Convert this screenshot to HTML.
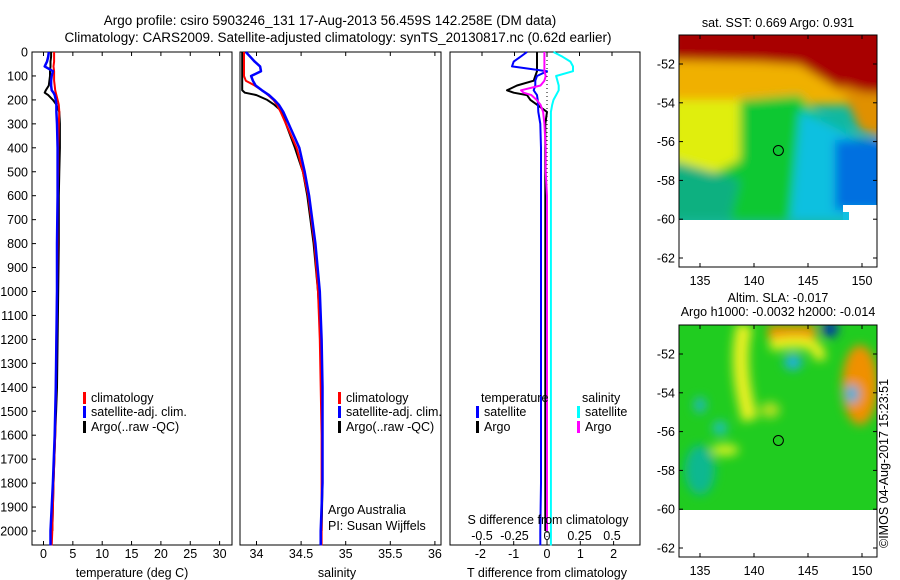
<!DOCTYPE html>
<html><head><meta charset="utf-8"><style>
body{margin:0;background:#fff;}
svg{display:block;font-family:"Liberation Sans",sans-serif;}
text{font-size:12.5px;fill:#000;}
</style></head><body>
<svg id="fig" width="900" height="580" viewBox="0 0 900 580">
<text x="330" y="25" text-anchor="middle" style="font-size:13.5px">Argo profile: csiro 5903246_131 17-Aug-2013 56.459S 142.258E (DM data)</text>
<text x="338" y="42" text-anchor="middle" style="font-size:13.5px">Climatology: CARS2009. Satellite-adjusted climatology: synTS_20130817.nc (0.62d earlier)</text>
<g id="panels"></g>
<g id="maps">
 <defs>
  <clipPath id="c1"><rect x="679" y="35" width="198" height="185"/></clipPath>
  <clipPath id="c2"><rect x="679" y="325" width="198" height="185"/></clipPath>
  <filter id="bl" x="-20%" y="-20%" width="140%" height="140%"><feGaussianBlur stdDeviation="5"/></filter>
 </defs>
 <g clip-path="url(#c1)">
  <rect x="679" y="35" width="198" height="185" fill="#10b8a0"/>
  <g filter="url(#bl)">
   <rect x="670" y="25" width="220" height="80" fill="#f0b000"/>
   <polygon points="670,100 750,100 760,130 740,180 670,180" fill="#e0ee10"/>
   <polygon points="670,25 890,25 890,95 840,90 800,65 760,62 670,60" fill="#a80000"/>
   <polygon points="740,100 800,95 830,130 820,220 730,220 700,180 740,160" fill="#10c830"/>
   <polygon points="670,160 740,180 730,220 670,220" fill="#10b080"/>
   <polygon points="800,110 860,140 890,140 890,220 790,220" fill="#10c0e0"/>
   <polygon points="835,140 890,140 890,210 835,210" fill="#0070e0"/>
   <polygon points="840,85 890,100 890,140 860,130" fill="#e09000"/>
  </g>
  <rect x="843" y="205" width="40" height="20" fill="#fff"/>
  <rect x="843" y="212" width="6" height="8" fill="#10c0e0"/>
 </g>
 <g clip-path="url(#c2)">
  <rect x="679" y="325" width="198" height="185" fill="#20cc20"/>
  <g filter="url(#bl)">
   <path d="M745,325 C735,360 745,400 750,420" stroke="#e8f020" stroke-width="16" fill="none"/>
   <rect x="768" y="325" width="48" height="14" fill="#f09000"/>
   <path d="M770,345 C800,340 820,340 820,360" stroke="#e8f020" stroke-width="12" fill="none"/>
   <ellipse cx="793" cy="362" rx="9" ry="8" fill="#20b0e0"/>
   <ellipse cx="830" cy="329" rx="8" ry="8" fill="#0030b0"/>
   <ellipse cx="860" cy="385" rx="18" ry="40" fill="#f09000"/>
   <ellipse cx="852" cy="394" rx="7" ry="9" fill="#20b0e0"/>
   <ellipse cx="700" cy="405" rx="6" ry="8" fill="#20b8c0"/>
   <ellipse cx="720" cy="428" rx="7" ry="7" fill="#20c0c0"/>
   <ellipse cx="725" cy="450" rx="14" ry="6" fill="#d0f020"/>
   <ellipse cx="770" cy="410" rx="10" ry="8" fill="#b0e020"/>
   <ellipse cx="700" cy="470" rx="15" ry="25" fill="#10b890"/>
  </g>
 </g>
 <text x="778" y="27" text-anchor="middle">sat. SST: 0.669 Argo: 0.931</text>
 <text x="778" y="302" text-anchor="middle">Altim. SLA: -0.017</text>
 <text x="778" y="316" text-anchor="middle">Argo h1000: -0.0032 h2000: -0.014</text>
 <text transform="translate(888,548) rotate(-90)">©IMOS 04-Aug-2017 15:23:51</text>
</g>
</svg>
<script>
// depth levels (m)
const depths=[0,20,40,60,80,100,120,140,160,170,180,200,220,250,300,400,500,600,800,1000,1200,1400,1600,1800,2000,2060];
const tempClim=[1.8,1.8,1.8,1.7,1.8,1.8,1.8,1.9,2.0,2.1,2.2,2.4,2.6,2.7,2.6,2.5,2.5,2.4,2.4,2.3,2.2,2.1,2.0,1.7,1.5,1.4];
const tempSat=[0.9,0.8,0.6,0.2,1.6,1.4,1.3,1.3,1.4,1.7,1.9,2.1,2.2,2.2,2.3,2.4,2.4,2.4,2.3,2.3,2.2,2.1,1.9,1.6,1.2,1.2];
const tempArgo=[1.3,1.3,1.2,1.2,1.1,1.1,1.0,0.9,0.4,0.2,0.8,1.6,2.2,2.7,2.8,2.8,2.7,2.6,2.6,2.5,2.4,2.3,2.0,1.7,1.5,null];
const salClim=[33.86,33.86,33.86,33.86,33.86,33.86,33.88,33.98,34.06,34.1,34.13,34.19,34.23,34.27,34.33,34.45,34.52,34.58,34.65,34.69,34.71,34.72,34.73,34.73,34.73,34.73];
const salSat=[33.88,33.93,33.98,34.04,34.05,33.94,33.96,33.99,34.06,34.1,34.14,34.2,34.25,34.3,34.36,34.48,34.54,34.59,34.66,34.71,34.73,34.74,34.74,34.74,34.72,34.72];
const salArgo=[33.84,33.84,33.84,33.84,33.84,33.84,33.84,33.84,33.84,33.87,34.0,34.12,34.2,34.29,34.33,34.43,34.52,34.57,34.64,34.69,34.72,34.73,34.74,34.74,34.73,null];
const tDiffSat=[-0.6,-0.8,-1.0,-1.05,0.0,-0.3,-0.35,-0.35,-0.4,-0.35,-0.3,-0.28,-0.27,-0.26,-0.2,-0.18,-0.18,-0.18,-0.18,-0.18,-0.18,-0.18,-0.18,-0.18,-0.2,-0.2];
const tDiffArgo=[-0.3,-0.3,-0.3,-0.3,-0.3,-0.35,-0.4,-0.9,-1.2,-1.0,-0.6,-0.5,-0.3,0.0,-0.05,-0.05,-0.05,-0.05,-0.05,-0.05,-0.05,-0.05,-0.05,-0.05,-0.05,null];
const sDiffSat=[0.05,0.12,0.18,0.2,0.2,0.07,0.08,0.09,0.09,0.08,0.07,0.05,0.04,0.03,0.03,0.03,0.03,0.03,0.03,0.03,0.03,0.03,0.03,0.03,0.03,0.03];
const sDiffArgo=[-0.02,-0.02,-0.02,-0.02,-0.02,-0.01,-0.02,-0.05,-0.2,-0.18,-0.12,-0.08,-0.05,-0.03,-0.02,-0.01,-0.01,0,0,0,0,0,0,0,0,null];
const depthTicks=[0,100,200,300,400,500,600,700,800,900,1000,1100,1200,1300,1400,1500,1600,1700,1800,1900,2000];
const tempTicks=[0,5,10,15,20,25,30];
const salTicks=[34,34.5,35,35.5,36];
const salTickLabels=["34","34.5","35","35.5","36"];
const tDiffTicks=[-2,-1,0,1,2];
const sDiffTicks=[-0.5,-0.25,0,0.25,0.5];
const sDiffTickLabels=["-0.5","-0.25","0","0.25","0.5"];

const NS='http://www.w3.org/2000/svg';
const G=document.getElementById('panels');
const top0=52, bot=545;
const yD=d=>top0+d*0.2395;
const xT=t=>43.5+t*5.87;
const xS=s=>256.5+(s-34)*89.2;
const xTD=v=>547+v*33.3;
const xSD=v=>547+v*130;
function mk(tag,attrs,parent){const e=document.createElementNS(NS,tag);for(const k in attrs)e.setAttribute(k,attrs[k]);(parent||G).appendChild(e);return e;}
function txt(x,y,s,anchor,parent){const e=mk('text',{x:x,y:y,'text-anchor':anchor||'start'},parent);e.textContent=s;return e;}
function line(xs,xf,color,name,w){
  let d='';let pen=false;
  for(let i=0;i<depths.length;i++){const v=xs[i];if(v===null||v===undefined){pen=false;continue;}
    const x=xf(v).toFixed(1),y=yD(depths[i]).toFixed(1);
    d+=(pen?'L':'M')+x+','+y;pen=true;}
  const p=mk('path',{d:d,fill:'none',stroke:color,'stroke-width':w||2,'stroke-linejoin':'round'});
  
  
}
function frame(x0,x1,name){
  const r=mk('rect',{x:x0,y:top0,width:x1-x0,height:bot-top0,fill:'none',stroke:'#000','stroke-width':1});
  
  
}
function xticks(vals,labels,xf,y,tickTop){
  vals.forEach((v,i)=>{const x=xf(v);
    mk('line',{x1:x,x2:x,y1:bot,y2:bot-4,stroke:'#000'});
    if(tickTop)mk('line',{x1:x,x2:x,y1:top0,y2:top0+4,stroke:'#000'});
    const tl=txt(x,y,labels[i],'middle');
    
    });
}
function legendItem(x,y,color,label){
  mk('rect',{x:x-5,y:y-10,width:3,height:12,fill:color});
  const tl=txt(x+3,y,label);
  
  
}
// panel 1: temperature
frame(32,232,'temperature-panel');
depthTicks.forEach(d=>{const y=yD(d);mk('line',{x1:32,x2:36,y1:y,y2:y,stroke:'#000'});
  const tl=txt(28,y+4.5,String(d),'end');
  
  });
xticks(tempTicks,tempTicks.map(String),xT,558,true);
line(tempArgo,xT,'#000','temperature-argo-line');
line(tempClim,xT,'#f00','temperature-climatology-line');
line(tempSat,xT,'#0000ff','temperature-satellite-line',2.5);
legendItem(88,402,'#f00','climatology');
legendItem(88,416,'#00f','satellite-adj. clim.');
legendItem(88,431,'#000','Argo(..raw -QC)');
let tt=txt(132,577,'temperature (deg C)','middle');


// panel 2: salinity
frame(240,441,'salinity-panel');
xticks(salTicks,salTickLabels,xS,558,true);
line(salArgo,xS,'#000','salinity-argo-line');
line(salClim,xS,'#f00','salinity-climatology-line');
line(salSat,xS,'#0000ff','salinity-satellite-line',2.5);
legendItem(343,402,'#f00','climatology');
legendItem(343,416,'#00f','satellite-adj. clim.');
legendItem(343,431,'#000','Argo(..raw -QC)');
tt=txt(328,514,'Argo Australia');
tt=txt(328,530,'PI: Susan Wijffels');
tt=txt(337,577,'salinity','middle');


// panel 3: differences
frame(450,640,'difference-panel');
xticks(tDiffTicks,tDiffTicks.map(String),xTD,558,false);
sDiffTicks.forEach((v,i)=>{const x=xSD(v);mk('line',{x1:x,x2:x,y1:top0,y2:top0+4,stroke:'#000'});
  const tl=txt(x,540,sDiffTickLabels[i],'middle');
  
  });
mk('line',{x1:547,x2:547,y1:top0,y2:bot,stroke:'#000','stroke-dasharray':'1,3'});
line(tDiffArgo,xTD,'#000','t-diff-argo-line');
line(tDiffSat,xTD,'#0000ff','t-diff-satellite-line');
line(sDiffSat,xSD,'#00ffff','s-diff-satellite-line');
line(sDiffArgo,xSD,'#ff00ff','s-diff-argo-line');
tt=txt(481,402,'temperature');
tt=txt(582,402,'salinity');
legendItem(481,416,'#00f','satellite');
legendItem(481,431,'#000','Argo');
legendItem(582,416,'#0ff','satellite');
legendItem(582,431,'#f0f','Argo');
tt=txt(548,524,'S difference from climatology','middle');
tt=txt(547,577,'T difference from climatology','middle');

// map axes
const M=document.getElementById('maps');
const lonTicks=[135,140,145,150];
const latTicks=[-52,-54,-56,-58,-60,-62];
const xLon=l=>700+(l-135)*10.8;
function mapAxes(y0,name){
  const yLat=a=>y0+29+(-52-a)*19.4;
  const r=mk('rect',{x:679,y:y0,width:198,height:232,fill:'none',stroke:'#000'},M);
  
  
  lonTicks.forEach(l=>{const x=xLon(l);mk('line',{x1:x,x2:x,y1:y0,y2:y0+4,stroke:'#000'},M);mk('line',{x1:x,x2:x,y1:y0+232,y2:y0+228,stroke:'#000'},M);
    const tl=txt(x,y0+250,String(l),'middle',M);});
  latTicks.forEach(a=>{const y=yLat(a);mk('line',{x1:679,x2:683,y1:y,y2:y,stroke:'#000'},M);mk('line',{x1:877,x2:873,y1:y,y2:y,stroke:'#000'},M);
    const tl=txt(675,y+4.5,String(a),'end',M);});
  const c=mk('circle',{cx:xLon(142.258),cy:yLat(-56.459),r:5,fill:'none',stroke:'#000'},M);
  
  
}
mapAxes(35,'sst-map-frame');
mapAxes(325,'sla-map-frame');
</script>
</body></html>
